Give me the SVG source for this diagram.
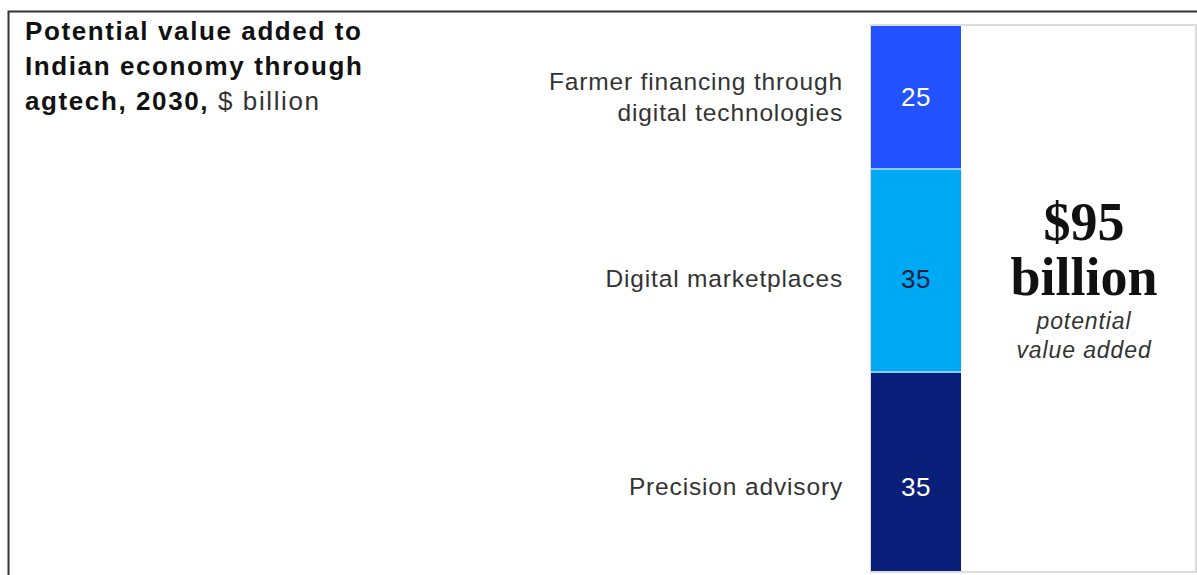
<svg xmlns="http://www.w3.org/2000/svg" width="1197" height="575" viewBox="0 0 1197 575">
<style>
.title{font-family:"Liberation Sans",Arial,sans-serif;font-size:26px;font-weight:bold;fill:#111;letter-spacing:1.6px}
.title .reg{font-weight:normal;fill:#333}
.lbl{font-family:"Liberation Sans",Arial,sans-serif;font-size:24.5px;fill:#333;letter-spacing:0.85px;text-anchor:end}
.num{font-family:"Liberation Sans",Arial,sans-serif;font-size:26px;letter-spacing:0.6px;text-anchor:middle}
.big{font-family:"Liberation Serif","Times New Roman",serif;font-size:54px;font-weight:bold;fill:#111;text-anchor:middle}
.sub{font-family:"Liberation Sans",Arial,sans-serif;font-size:23px;font-style:italic;fill:#333;letter-spacing:0.9px;text-anchor:middle}
</style>
<rect x="0" y="0" width="1197" height="575" fill="#fff"/>
<g id="frame" fill="none">
<path d="M8.5 575 V11.5 H1197" stroke="#333" stroke-width="2"/>
</g>
<g id="title">
<text class="title" x="25" y="40">Potential value added to</text>
<text class="title" x="25" y="75">Indian economy through</text>
<text class="title" x="25" y="110">agtech, 2030,<tspan class="reg"> $ billion</tspan></text>
</g>
<g id="total-box">
<rect x="871" y="25" width="325" height="547" fill="#fff" stroke="#dcdcdc" stroke-width="2"/>
</g>
<g id="seg-farmer">
<rect x="871" y="26" width="90" height="142" fill="#2251ff"/>
<text class="num" x="916" y="106" fill="#fff">25</text>
<text class="lbl" x="843" y="90">Farmer financing through</text>
<text class="lbl" x="843" y="121">digital technologies</text>
</g>
<g id="seg-market">
<rect x="871" y="170" width="90" height="201" fill="#00a9f4"/>
<text class="num" x="916" y="288" fill="#0b1e45">35</text>
<text class="lbl" x="843" y="287">Digital marketplaces</text>
</g>
<g id="seg-precision">
<rect x="871" y="373" width="90" height="198" fill="#0a1f79"/>
<text class="num" x="916" y="496" fill="#fff">35</text>
<text class="lbl" x="843" y="495">Precision advisory</text>
</g>
<g id="dividers" stroke="#8fc8ff" stroke-width="2">
<line x1="871" y1="169" x2="961" y2="169"/>
<line x1="871" y1="372" x2="961" y2="372"/>
</g>
<g id="total">
<text class="big" x="1084" y="240">$95</text>
<text class="big" x="1084" y="295">billion</text>
<text class="sub" x="1084" y="329">potential</text>
<text class="sub" x="1084" y="358">value added</text>
</g>
</svg>
